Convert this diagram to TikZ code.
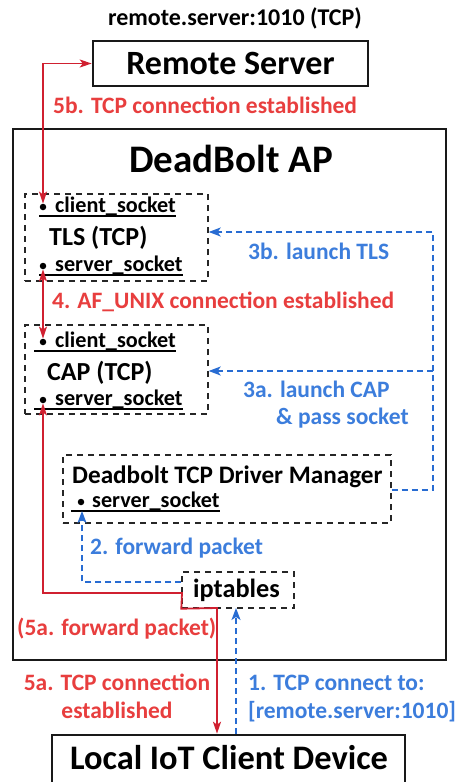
\documentclass[tikz,border=0pt]{standalone}
\usepackage{fontspec}
\setmainfont{Carlito}
\usetikzlibrary{arrows.meta,calc}
\definecolor{lblred}{RGB}{232,62,62}
\definecolor{linered}{RGB}{208,32,48}
\definecolor{lblblue}{RGB}{60,125,220}
\definecolor{lineblue}{RGB}{40,108,210}
\newcommand\pxfont[1]{\fontsize{#1}{#1}\selectfont\bfseries}
\begin{document}
\begin{tikzpicture}[x=1pt,y=-1pt,
  solidbox/.style={draw=black!90, line width=2.6pt, inner sep=0pt},
  dashbox/.style={draw=black!85, line width=1.4pt, dash pattern=on 6pt off 5pt, inner sep=0pt},
  txt/.style={inner sep=0pt, anchor=base west},
  ctxt/.style={inner sep=0pt, anchor=base},
  redlbl/.style={txt, text=lblred, font=\pxfont{23.5}},
  bluelbl/.style={txt, text=lblblue, font=\pxfont{23.5}},
  socklbl/.style={txt, font=\pxfont{22.2}},
  sockdot/.style={circle, fill=black, inner sep=0pt, minimum size=6.5pt},
  uline/.style={line width=1.3pt},
  redline/.style={draw=linered, line width=1.8pt, {Stealth[length=12pt,width=8pt,inset=3pt]}-{Stealth[length=12pt,width=8pt,inset=3pt]}},
  blueline/.style={draw=lineblue, line width=1.5pt, dash pattern=on 6pt off 4pt, -{Stealth[length=12pt,width=9pt,inset=3pt]}},
]
\path[use as bounding box, fill=white] (0,0) rectangle (457,782);

% ---- remote end ----
\node[ctxt, font=\pxfont{24}] (addr) at (235,25) {remote.server:1010 (TCP)};
\node[solidbox, minimum width=275pt, minimum height=45pt] (remote) at (230.5,63.5) {};
\node[ctxt, font=\pxfont{34}] (remotet) at (230.5,74) {Remote Server};
\node[redlbl] (l5b) at (53,113) {5b. TCP connection established};

% ---- access point ----
\node[solidbox, minimum width=433pt, minimum height=531pt] (ap) at (229.5,394.5) {};
\node[ctxt, font=\pxfont{39}] (apt) at (231,172) {DeadBolt AP};

% TLS process
\node[dashbox, minimum width=183pt, minimum height=87pt] (tls) at (116.5,237.5) {};
\node[sockdot] (tlsC) at (43,207) {};
\node[socklbl] (tlsCt) at (55,212) {client\_socket};
\draw[uline] (39,216) -- (tlsCt.south east |- 0,216);
\node[txt, font=\pxfont{26}] (tlst) at (49,245) {TLS (TCP)};
\node[sockdot] (tlsS) at (43,266) {};
\node[socklbl] (tlsSt) at (55,271) {server\_socket};
\draw[uline] (39,275) -- (tlsSt.south east |- 0,275);

\node[redlbl] (l4) at (52,308) {4. AF\_UNIX connection established};

% CAP process
\node[dashbox, minimum width=183pt, minimum height=89pt] (cap) at (116.5,369.5) {};
\node[sockdot] (capC) at (43,342) {};
\node[socklbl] (capCt) at (55,347) {client\_socket};
\draw[uline] (34,351) -- (capCt.south east |- 0,351);
\node[txt, font=\pxfont{26}] (capt) at (47,380) {CAP (TCP)};
\node[sockdot] (capS) at (43,400) {};
\node[socklbl] (capSt) at (55,405) {server\_socket};
\draw[uline] (34,409) -- (capSt.south east |- 0,409);

\node[bluelbl] (l3b) at (248,259) {3b. launch TLS};
\node[bluelbl] (l3a) at (243,397) {3a. launch CAP};
\node[bluelbl] (l3a2) at (276,424) {\& pass socket};

% driver manager
\node[dashbox, minimum width=328pt, minimum height=68pt] (dm) at (227,489) {};
\node[txt, font=\pxfont{25.2}] (dmt) at (72,483) {Deadbolt TCP Driver Manager};
\node[sockdot] (dmS) at (81,502) {};
\node[socklbl] (dmSt) at (92,507) {server\_socket};
\draw[uline] (71,511) -- (dmSt.south east |- 0,511);

\node[bluelbl] (l2) at (90,554) {2. forward packet};

% iptables
\node[dashbox, minimum width=112pt, minimum height=36pt] (ipt) at (238,590) {};
\node[txt, font=\pxfont{26.3}] (iptt) at (193,597) {iptables};

\node[redlbl] (l5af) at (17,635) {(5a. forward packet)};

% ---- local device ----
\node[solidbox, minimum width=353pt, minimum height=55pt] (local) at (228.5,762.5) {};
\node[ctxt, font=\pxfont{34.4}] (localt) at (229,769) {Local IoT Client Device};

\node[ctxt, text=lblred, font=\pxfont{23.5}] (l5a) at (117,690) {5a. TCP connection};
\node[ctxt, text=lblred, font=\pxfont{23.5}] (l5a2) at (117,718) {established};
\node[bluelbl] (l1) at (248,690) {1. TCP connect to:};
\node[bluelbl] (l1b) at (248,718) {[remote.server:1010]};

% ---- connectors ----
\coordinate (rA) at (217,608);
\coordinate (bA) at (236,608);
\draw[redline] (tlsC.north) |- (remote.west);
\draw[redline] (tlsS.south) -- (capC.north);
\draw[redline] (capS.south) -- (43,593) -- (182,593) -- (ipt.south west) -- (rA) -- (rA |- local.north);

\draw[blueline] (bA |- local.north) -- (bA);
\draw[blueline] (ipt.west |- 0,582) -- (82,582) -- (82,511);
\draw[blueline] (dm.east |- 0,490) -- (433,490) -- (433,232) -- (tls.east |- 0,232);
\draw[blueline] (433,371) -- (cap.east |- 0,371);
\end{tikzpicture}
\end{document}
